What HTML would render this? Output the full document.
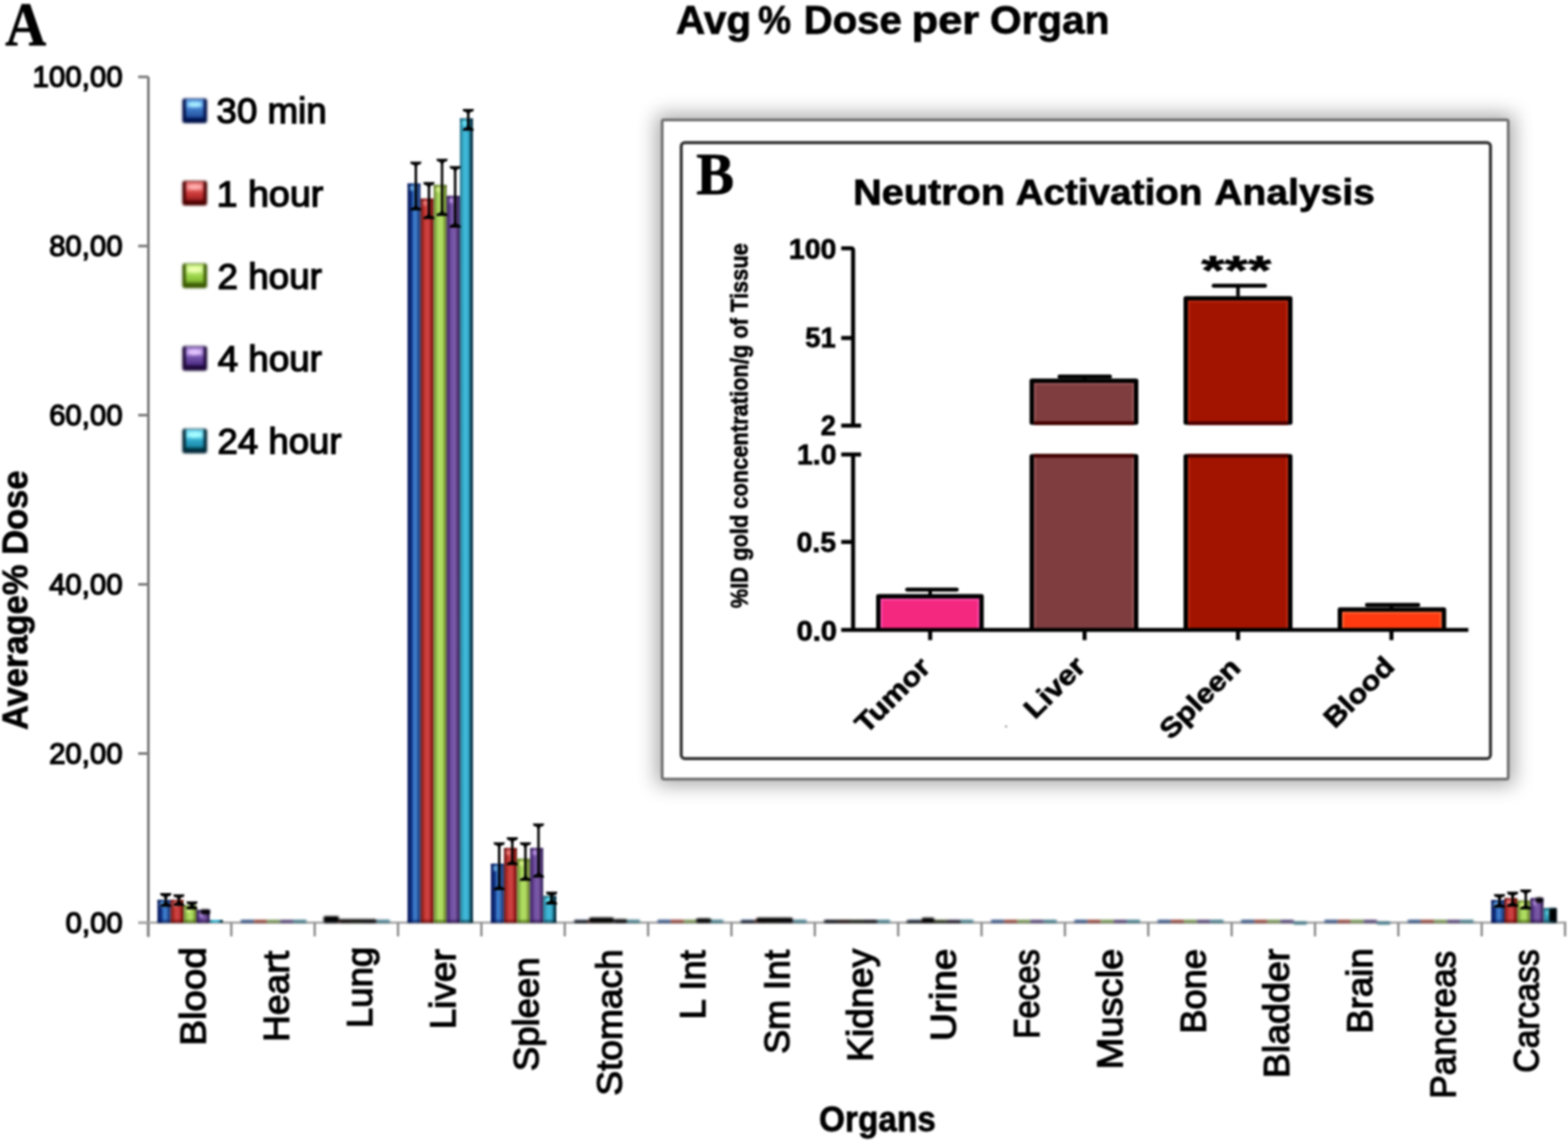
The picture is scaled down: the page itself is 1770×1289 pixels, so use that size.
<!DOCTYPE html><html><head><meta charset="utf-8"><style>html,body{margin:0;padding:0;background:#fff;overflow:hidden;}svg{display:block;}</style></head><body>
<svg width="1770" height="1289" viewBox="0 0 1770 1289">
<defs>
<linearGradient id="g_blue" x1="0" y1="0" x2="1" y2="0"><stop offset="0" stop-color="#2a3d78"/><stop offset="0.12" stop-color="#0b1f66"/><stop offset="0.3" stop-color="#10307e"/><stop offset="0.5" stop-color="#3b7bcc"/><stop offset="0.68" stop-color="#3a78c4"/><stop offset="0.86" stop-color="#24468a"/><stop offset="1" stop-color="#1c3270"/></linearGradient>
<radialGradient id="lg_blue" cx="0.5" cy="0.1" r="0.75"><stop offset="0" stop-color="#7ec0ff"/><stop offset="0.45" stop-color="#3a78cc"/><stop offset="1" stop-color="#3a78cc"/></radialGradient>
<linearGradient id="g_red" x1="0" y1="0" x2="1" y2="0"><stop offset="0" stop-color="#5e2630"/><stop offset="0.12" stop-color="#8a2020"/><stop offset="0.3" stop-color="#c13530"/><stop offset="0.5" stop-color="#d04444"/><stop offset="0.68" stop-color="#c23a3a"/><stop offset="0.86" stop-color="#8c1414"/><stop offset="1" stop-color="#6e2a12"/></linearGradient>
<radialGradient id="lg_red" cx="0.5" cy="0.1" r="0.75"><stop offset="0" stop-color="#ff8a8a"/><stop offset="0.45" stop-color="#c83838"/><stop offset="1" stop-color="#c83838"/></radialGradient>
<linearGradient id="g_green" x1="0" y1="0" x2="1" y2="0"><stop offset="0" stop-color="#6a7f3a"/><stop offset="0.12" stop-color="#7fa040"/><stop offset="0.3" stop-color="#a4d25a"/><stop offset="0.5" stop-color="#b2e064"/><stop offset="0.68" stop-color="#a8d45a"/><stop offset="0.86" stop-color="#7a963a"/><stop offset="1" stop-color="#5e6e34"/></linearGradient>
<radialGradient id="lg_green" cx="0.5" cy="0.1" r="0.75"><stop offset="0" stop-color="#e8ff9a"/><stop offset="0.45" stop-color="#9ccc44"/><stop offset="1" stop-color="#9ccc44"/></radialGradient>
<linearGradient id="g_purple" x1="0" y1="0" x2="1" y2="0"><stop offset="0" stop-color="#3e2c66"/><stop offset="0.12" stop-color="#4a2a72"/><stop offset="0.3" stop-color="#6a4a9c"/><stop offset="0.5" stop-color="#7b5aaa"/><stop offset="0.68" stop-color="#74529e"/><stop offset="0.86" stop-color="#4a2e6c"/><stop offset="1" stop-color="#3a3262"/></linearGradient>
<radialGradient id="lg_purple" cx="0.5" cy="0.1" r="0.75"><stop offset="0" stop-color="#d0a8ff"/><stop offset="0.45" stop-color="#6a4a9c"/><stop offset="1" stop-color="#6a4a9c"/></radialGradient>
<linearGradient id="g_cyan" x1="0" y1="0" x2="1" y2="0"><stop offset="0" stop-color="#2e6f86"/><stop offset="0.12" stop-color="#2c90aa"/><stop offset="0.3" stop-color="#3eb4d4"/><stop offset="0.5" stop-color="#42bad8"/><stop offset="0.68" stop-color="#30a0c0"/><stop offset="0.86" stop-color="#0a3a4c"/><stop offset="1" stop-color="#083040"/></linearGradient>
<radialGradient id="lg_cyan" cx="0.5" cy="0.1" r="0.75"><stop offset="0" stop-color="#8af0ff"/><stop offset="0.45" stop-color="#2aa8c8"/><stop offset="1" stop-color="#2aa8c8"/></radialGradient>
<linearGradient id="lv_blue" x1="0" y1="0" x2="0" y2="1"><stop offset="0" stop-color="#5a9ae0"/><stop offset="0.35" stop-color="#6aa8f0"/><stop offset="0.55" stop-color="#3a74c0"/><stop offset="0.85" stop-color="#2a5aa8"/><stop offset="1" stop-color="#0a2a70"/></linearGradient>
<linearGradient id="lv_red" x1="0" y1="0" x2="0" y2="1"><stop offset="0" stop-color="#e87070"/><stop offset="0.35" stop-color="#f08080"/><stop offset="0.55" stop-color="#d04040"/><stop offset="0.85" stop-color="#b02828"/><stop offset="1" stop-color="#701010"/></linearGradient>
<linearGradient id="lv_green" x1="0" y1="0" x2="0" y2="1"><stop offset="0" stop-color="#c8f080"/><stop offset="0.35" stop-color="#d0f890"/><stop offset="0.55" stop-color="#a0d850"/><stop offset="0.85" stop-color="#88c038"/><stop offset="1" stop-color="#4a7010"/></linearGradient>
<linearGradient id="lv_purple" x1="0" y1="0" x2="0" y2="1"><stop offset="0" stop-color="#a080d0"/><stop offset="0.35" stop-color="#b090e0"/><stop offset="0.55" stop-color="#7050a8"/><stop offset="0.85" stop-color="#5a3890"/><stop offset="1" stop-color="#2a1050"/></linearGradient>
<linearGradient id="lv_cyan" x1="0" y1="0" x2="0" y2="1"><stop offset="0" stop-color="#70d8f0"/><stop offset="0.35" stop-color="#80e8ff"/><stop offset="0.55" stop-color="#30a8c8"/><stop offset="0.85" stop-color="#2090b0"/><stop offset="1" stop-color="#004858"/></linearGradient>
<filter id="shadow" x="-10%" y="-10%" width="120%" height="120%" color-interpolation-filters="sRGB"><feGaussianBlur stdDeviation="11"/></filter>
<filter id="soft" x="-20%" y="-20%" width="140%" height="140%" color-interpolation-filters="sRGB"><feGaussianBlur stdDeviation="0.8"/></filter>
<filter id="glob" x="0" y="0" width="100%" height="100%" filterUnits="userSpaceOnUse" color-interpolation-filters="sRGB"><feGaussianBlur stdDeviation="0.9"/></filter>
</defs>
<rect width="1770" height="1289" fill="#fff"/>
<g filter="url(#glob)">
<rect width="1770" height="1289" fill="#fff"/>
<text x="6.07" y="50.5" font-family="'Liberation Serif', 'Times New Roman', serif" font-weight="bold" font-size="69" textLength="46.21" lengthAdjust="spacingAndGlyphs" fill="#000" stroke="#000" stroke-width="0.8">A</text>
<text x="762.98" y="38.2" font-family="'Liberation Sans', Arial, sans-serif" font-weight="bold" font-size="45" textLength="84.93" lengthAdjust="spacingAndGlyphs" fill="#000" stroke="#000" stroke-width="0.8">Avg</text>
<text x="855.67" y="38.2" font-family="'Liberation Sans', Arial, sans-serif" font-weight="bold" font-size="45" textLength="37.28" lengthAdjust="spacingAndGlyphs" fill="#000" stroke="#000" stroke-width="0.8">%</text>
<text x="907.18" y="38.2" font-family="'Liberation Sans', Arial, sans-serif" font-weight="bold" font-size="45" textLength="110.89" lengthAdjust="spacingAndGlyphs" fill="#000" stroke="#000" stroke-width="0.8">Dose</text>
<text x="1028.92" y="38.2" font-family="'Liberation Sans', Arial, sans-serif" font-weight="bold" font-size="45" textLength="76.61" lengthAdjust="spacingAndGlyphs" fill="#000" stroke="#000" stroke-width="0.8">per</text>
<text x="1117.57" y="38.2" font-family="'Liberation Sans', Arial, sans-serif" font-weight="bold" font-size="45" textLength="134.81" lengthAdjust="spacingAndGlyphs" fill="#000" stroke="#000" stroke-width="0.8">Organ</text>
<g stroke="#7a7a7a" stroke-width="3" fill="none">
<line x1="167.5" y1="86.80000000000018" x2="167.5" y2="1057.4"/>
<line x1="156" y1="1041.4" x2="167.5" y2="1041.4"/>
<line x1="156" y1="850.5" x2="167.5" y2="850.5"/>
<line x1="156" y1="659.6" x2="167.5" y2="659.6"/>
<line x1="156" y1="468.6" x2="167.5" y2="468.6"/>
<line x1="156" y1="277.7" x2="167.5" y2="277.7"/>
<line x1="156" y1="86.8" x2="167.5" y2="86.8"/>
<line x1="156" y1="1041.4" x2="1768" y2="1041.4" stroke="#ababab" stroke-width="2.6"/>
<line x1="167.0" y1="1041.4" x2="167.0" y2="1056.9" stroke="#8a8a8a" stroke-width="2.6"/>
<line x1="261.1" y1="1041.4" x2="261.1" y2="1056.9" stroke="#8a8a8a" stroke-width="2.6"/>
<line x1="355.2" y1="1041.4" x2="355.2" y2="1056.9" stroke="#8a8a8a" stroke-width="2.6"/>
<line x1="449.3" y1="1041.4" x2="449.3" y2="1056.9" stroke="#8a8a8a" stroke-width="2.6"/>
<line x1="543.4" y1="1041.4" x2="543.4" y2="1056.9" stroke="#8a8a8a" stroke-width="2.6"/>
<line x1="637.5" y1="1041.4" x2="637.5" y2="1056.9" stroke="#8a8a8a" stroke-width="2.6"/>
<line x1="731.6" y1="1041.4" x2="731.6" y2="1056.9" stroke="#8a8a8a" stroke-width="2.6"/>
<line x1="825.7" y1="1041.4" x2="825.7" y2="1056.9" stroke="#8a8a8a" stroke-width="2.6"/>
<line x1="919.8" y1="1041.4" x2="919.8" y2="1056.9" stroke="#8a8a8a" stroke-width="2.6"/>
<line x1="1013.9" y1="1041.4" x2="1013.9" y2="1056.9" stroke="#8a8a8a" stroke-width="2.6"/>
<line x1="1108.0" y1="1041.4" x2="1108.0" y2="1056.9" stroke="#8a8a8a" stroke-width="2.6"/>
<line x1="1202.1" y1="1041.4" x2="1202.1" y2="1056.9" stroke="#8a8a8a" stroke-width="2.6"/>
<line x1="1296.2" y1="1041.4" x2="1296.2" y2="1056.9" stroke="#8a8a8a" stroke-width="2.6"/>
<line x1="1390.3" y1="1041.4" x2="1390.3" y2="1056.9" stroke="#8a8a8a" stroke-width="2.6"/>
<line x1="1484.4" y1="1041.4" x2="1484.4" y2="1056.9" stroke="#8a8a8a" stroke-width="2.6"/>
<line x1="1578.5" y1="1041.4" x2="1578.5" y2="1056.9" stroke="#8a8a8a" stroke-width="2.6"/>
<line x1="1672.6" y1="1041.4" x2="1672.6" y2="1056.9" stroke="#8a8a8a" stroke-width="2.6"/>
<line x1="1766.7" y1="1041.4" x2="1766.7" y2="1056.9" stroke="#8a8a8a" stroke-width="2.6"/>
</g>
<text x="73.96" y="1053.0" font-family="'Liberation Sans', Arial, sans-serif" font-weight="normal" font-size="34" textLength="64.60" lengthAdjust="spacingAndGlyphs" fill="#000" stroke="#000" stroke-width="1.5">0,00</text>
<text x="55.42" y="862.1" font-family="'Liberation Sans', Arial, sans-serif" font-weight="normal" font-size="34" textLength="83.05" lengthAdjust="spacingAndGlyphs" fill="#000" stroke="#000" stroke-width="1.5">20,00</text>
<text x="55.42" y="671.2" font-family="'Liberation Sans', Arial, sans-serif" font-weight="normal" font-size="34" textLength="83.05" lengthAdjust="spacingAndGlyphs" fill="#000" stroke="#000" stroke-width="1.5">40,00</text>
<text x="55.42" y="480.2" font-family="'Liberation Sans', Arial, sans-serif" font-weight="normal" font-size="34" textLength="83.05" lengthAdjust="spacingAndGlyphs" fill="#000" stroke="#000" stroke-width="1.5">60,00</text>
<text x="55.42" y="289.3" font-family="'Liberation Sans', Arial, sans-serif" font-weight="normal" font-size="34" textLength="83.05" lengthAdjust="spacingAndGlyphs" fill="#000" stroke="#000" stroke-width="1.5">80,00</text>
<text x="36.87" y="98.4" font-family="'Liberation Sans', Arial, sans-serif" font-weight="normal" font-size="34" textLength="101.50" lengthAdjust="spacingAndGlyphs" fill="#000" stroke="#000" stroke-width="1.5">100,00</text>
<rect x="177.60" y="1015.80" width="14.8" height="25.60" fill="url(#g_blue)"/>
<g filter="url(#soft)"><rect x="178.10" y="1015.80" width="13.8" height="2" fill="#001050" opacity="0.6"/><ellipse cx="182.78" cy="1020.80" rx="2.2" ry="3.2" fill="#8ad8ff" opacity="0.75"/><rect x="178.10" y="1038.90" width="13.8" height="2.5" fill="#001050" opacity="0.7"/></g>
<rect x="192.40" y="1015.80" width="14.8" height="25.60" fill="url(#g_red)"/>
<g filter="url(#soft)"><rect x="192.90" y="1015.80" width="13.8" height="2" fill="#500000" opacity="0.6"/><ellipse cx="197.58" cy="1020.80" rx="2.2" ry="3.2" fill="#ff9a9a" opacity="0.75"/><rect x="192.90" y="1038.90" width="13.8" height="2.5" fill="#500000" opacity="0.7"/></g>
<rect x="207.20" y="1021.90" width="14.8" height="19.50" fill="url(#g_green)"/>
<g filter="url(#soft)"><rect x="207.70" y="1021.90" width="13.8" height="2" fill="#304a00" opacity="0.6"/><ellipse cx="212.38" cy="1026.90" rx="2.2" ry="3.2" fill="#f0ffa0" opacity="0.75"/><rect x="207.70" y="1038.90" width="13.8" height="2.5" fill="#304a00" opacity="0.7"/></g>
<rect x="222.00" y="1027.30" width="14.8" height="14.10" fill="url(#g_purple)"/>
<g filter="url(#soft)"><rect x="222.50" y="1027.30" width="13.8" height="2" fill="#200838" opacity="0.6"/><ellipse cx="227.18" cy="1032.30" rx="2.2" ry="3.2" fill="#d8b0ff" opacity="0.75"/><rect x="222.50" y="1038.90" width="13.8" height="2.5" fill="#200838" opacity="0.7"/></g>
<rect x="236.80" y="1038.30" width="14.8" height="3.10" fill="url(#g_cyan)"/>
<g><line x1="187.1" y1="1009.7" x2="187.1" y2="1022.0" stroke="#000" stroke-width="2.8"/><path d="M180.6,1008.1 L193.6,1008.1 L192.6,1010.9 L189.1,1011.9 L188.7,1013.7 L185.5,1013.7 L185.1,1011.9 L181.6,1010.9 Z" fill="#000"/><path d="M180.6,1023.6 L193.6,1023.6 L192.6,1020.8 L189.1,1019.8 L188.7,1018.0 L185.5,1018.0 L185.1,1019.8 L181.6,1020.8 Z" fill="#000"/></g>
<g><line x1="201.9" y1="1011.0" x2="201.9" y2="1021.0" stroke="#000" stroke-width="2.8"/><path d="M195.4,1009.4 L208.4,1009.4 L207.4,1012.2 L203.9,1013.2 L203.5,1015.0 L200.3,1015.0 L199.9,1013.2 L196.4,1012.2 Z" fill="#000"/><path d="M195.4,1022.6 L208.4,1022.6 L207.4,1019.8 L203.9,1018.8 L203.5,1017.0 L200.3,1017.0 L199.9,1018.8 L196.4,1019.8 Z" fill="#000"/></g>
<g><line x1="216.7" y1="1019.0" x2="216.7" y2="1025.0" stroke="#000" stroke-width="2.8"/><path d="M210.2,1017.4 L223.2,1017.4 L222.2,1020.2 L218.7,1021.2 L218.3,1023.0 L215.1,1023.0 L214.7,1021.2 L211.2,1020.2 Z" fill="#000"/><path d="M210.2,1026.6 L223.2,1026.6 L222.2,1023.8 L218.7,1022.8 L218.3,1021.0 L215.1,1021.0 L214.7,1022.8 L211.2,1023.8 Z" fill="#000"/></g>
<g filter="url(#soft)">
<rect x="271.70" y="1038.2" width="15.10" height="3.4" rx="1" fill="#2c4c80"/>
<rect x="286.50" y="1038.2" width="15.10" height="3.4" rx="1" fill="#8e3a30"/>
<rect x="301.30" y="1038.2" width="15.10" height="3.4" rx="1" fill="#6e8e48"/>
<rect x="316.10" y="1038.2" width="15.10" height="3.4" rx="1" fill="#4c3a70"/>
<rect x="330.90" y="1038.2" width="15.10" height="3.4" rx="1" fill="#3a7686"/>
</g>
<g filter="url(#soft)">
<rect x="365.80" y="1038.2" width="15.10" height="3.4" rx="1" fill="#2c4c80"/>
<rect x="380.60" y="1038.2" width="15.10" height="3.4" rx="1" fill="#8e3a30"/>
<rect x="395.40" y="1038.2" width="15.10" height="3.4" rx="1" fill="#6e8e48"/>
<rect x="410.20" y="1038.2" width="15.10" height="3.4" rx="1" fill="#4c3a70"/>
<rect x="425.00" y="1038.2" width="15.10" height="3.4" rx="1" fill="#3a7686"/>
<rect x="365.2" y="1034.1" width="17.5" height="7.5" rx="2" fill="#000"/>
<rect x="382.7" y="1037.6" width="42.3" height="4.0" rx="2" fill="#000"/>
</g>
<rect x="459.90" y="207.20" width="14.8" height="834.20" fill="url(#g_blue)"/>
<g filter="url(#soft)"><rect x="460.40" y="207.20" width="13.8" height="2" fill="#001050" opacity="0.6"/><ellipse cx="465.08" cy="212.20" rx="2.2" ry="3.2" fill="#8ad8ff" opacity="0.75"/><rect x="460.40" y="1038.90" width="13.8" height="2.5" fill="#001050" opacity="0.7"/></g>
<rect x="474.70" y="224.30" width="14.8" height="817.10" fill="url(#g_red)"/>
<g filter="url(#soft)"><rect x="475.20" y="224.30" width="13.8" height="2" fill="#500000" opacity="0.6"/><ellipse cx="479.88" cy="229.30" rx="2.2" ry="3.2" fill="#ff9a9a" opacity="0.75"/><rect x="475.20" y="1038.90" width="13.8" height="2.5" fill="#500000" opacity="0.7"/></g>
<rect x="489.50" y="208.80" width="14.8" height="832.60" fill="url(#g_green)"/>
<g filter="url(#soft)"><rect x="490.00" y="208.80" width="13.8" height="2" fill="#304a00" opacity="0.6"/><ellipse cx="494.68" cy="213.80" rx="2.2" ry="3.2" fill="#f0ffa0" opacity="0.75"/><rect x="490.00" y="1038.90" width="13.8" height="2.5" fill="#304a00" opacity="0.7"/></g>
<rect x="504.30" y="221.20" width="14.8" height="820.20" fill="url(#g_purple)"/>
<g filter="url(#soft)"><rect x="504.80" y="221.20" width="13.8" height="2" fill="#200838" opacity="0.6"/><ellipse cx="509.48" cy="226.20" rx="2.2" ry="3.2" fill="#d8b0ff" opacity="0.75"/><rect x="504.80" y="1038.90" width="13.8" height="2.5" fill="#200838" opacity="0.7"/></g>
<rect x="519.10" y="133.70" width="14.8" height="907.70" fill="url(#g_cyan)"/>
<g filter="url(#soft)"><rect x="519.60" y="133.70" width="13.8" height="2" fill="#002030" opacity="0.6"/><ellipse cx="524.28" cy="138.70" rx="2.2" ry="3.2" fill="#80f8ff" opacity="0.75"/><rect x="519.60" y="1038.90" width="13.8" height="2.5" fill="#002030" opacity="0.7"/></g>
<g><line x1="469.4" y1="184.0" x2="469.4" y2="236.0" stroke="#000" stroke-width="2.8"/><path d="M462.9,182.4 L475.9,182.4 L474.9,185.2 L471.4,186.2 L471.0,188.0 L467.8,188.0 L467.4,186.2 L463.9,185.2 Z" fill="#000"/><path d="M462.9,237.6 L475.9,237.6 L474.9,234.8 L471.4,233.8 L471.0,232.0 L467.8,232.0 L467.4,233.8 L463.9,234.8 Z" fill="#000"/></g>
<g><line x1="484.2" y1="207.2" x2="484.2" y2="245.6" stroke="#000" stroke-width="2.8"/><path d="M477.7,205.6 L490.7,205.6 L489.7,208.4 L486.2,209.4 L485.8,211.2 L482.6,211.2 L482.2,209.4 L478.7,208.4 Z" fill="#000"/><path d="M477.7,247.2 L490.7,247.2 L489.7,244.4 L486.2,243.4 L485.8,241.6 L482.6,241.6 L482.2,243.4 L478.7,244.4 Z" fill="#000"/></g>
<g><line x1="499.0" y1="180.9" x2="499.0" y2="242.1" stroke="#000" stroke-width="2.8"/><path d="M492.5,179.3 L505.5,179.3 L504.5,182.1 L501.0,183.1 L500.6,184.9 L497.4,184.9 L497.0,183.1 L493.5,182.1 Z" fill="#000"/><path d="M492.5,243.7 L505.5,243.7 L504.5,240.9 L501.0,239.9 L500.6,238.1 L497.4,238.1 L497.0,239.9 L493.5,240.9 Z" fill="#000"/></g>
<g><line x1="513.8" y1="189.0" x2="513.8" y2="255.3" stroke="#000" stroke-width="2.8"/><path d="M507.3,187.4 L520.3,187.4 L519.3,190.2 L515.8,191.2 L515.4,193.0 L512.2,193.0 L511.8,191.2 L508.3,190.2 Z" fill="#000"/><path d="M507.3,256.9 L520.3,256.9 L519.3,254.1 L515.8,253.1 L515.4,251.3 L512.2,251.3 L511.8,253.1 L508.3,254.1 Z" fill="#000"/></g>
<g><line x1="528.6" y1="124.5" x2="528.6" y2="146.0" stroke="#000" stroke-width="2.8"/><path d="M522.1,122.9 L535.1,122.9 L534.1,125.7 L530.6,126.7 L530.2,128.5 L527.0,128.5 L526.6,126.7 L523.1,125.7 Z" fill="#000"/><path d="M522.1,147.6 L535.1,147.6 L534.1,144.8 L530.6,143.8 L530.2,142.0 L527.0,142.0 L526.6,143.8 L523.1,144.8 Z" fill="#000"/></g>
<rect x="554.00" y="975.00" width="14.8" height="66.40" fill="url(#g_blue)"/>
<g filter="url(#soft)"><rect x="554.50" y="975.00" width="13.8" height="2" fill="#001050" opacity="0.6"/><ellipse cx="559.18" cy="980.00" rx="2.2" ry="3.2" fill="#8ad8ff" opacity="0.75"/><rect x="554.50" y="1038.90" width="13.8" height="2.5" fill="#001050" opacity="0.7"/></g>
<rect x="568.80" y="957.30" width="14.8" height="84.10" fill="url(#g_red)"/>
<g filter="url(#soft)"><rect x="569.30" y="957.30" width="13.8" height="2" fill="#500000" opacity="0.6"/><ellipse cx="573.98" cy="962.30" rx="2.2" ry="3.2" fill="#ff9a9a" opacity="0.75"/><rect x="569.30" y="1038.90" width="13.8" height="2.5" fill="#500000" opacity="0.7"/></g>
<rect x="583.60" y="969.40" width="14.8" height="72.00" fill="url(#g_green)"/>
<g filter="url(#soft)"><rect x="584.10" y="969.40" width="13.8" height="2" fill="#304a00" opacity="0.6"/><ellipse cx="588.78" cy="974.40" rx="2.2" ry="3.2" fill="#f0ffa0" opacity="0.75"/><rect x="584.10" y="1038.90" width="13.8" height="2.5" fill="#304a00" opacity="0.7"/></g>
<rect x="598.40" y="957.30" width="14.8" height="84.10" fill="url(#g_purple)"/>
<g filter="url(#soft)"><rect x="598.90" y="957.30" width="13.8" height="2" fill="#200838" opacity="0.6"/><ellipse cx="603.58" cy="962.30" rx="2.2" ry="3.2" fill="#d8b0ff" opacity="0.75"/><rect x="598.90" y="1038.90" width="13.8" height="2.5" fill="#200838" opacity="0.7"/></g>
<rect x="613.20" y="1011.30" width="14.8" height="30.10" fill="url(#g_cyan)"/>
<g filter="url(#soft)"><rect x="613.70" y="1011.30" width="13.8" height="2" fill="#002030" opacity="0.6"/><ellipse cx="618.38" cy="1016.30" rx="2.2" ry="3.2" fill="#80f8ff" opacity="0.75"/><rect x="613.70" y="1038.90" width="13.8" height="2.5" fill="#002030" opacity="0.7"/></g>
<g><line x1="563.5" y1="952.3" x2="563.5" y2="1003.2" stroke="#000" stroke-width="2.8"/><path d="M557.0,950.7 L570.0,950.7 L569.0,953.5 L565.5,954.5 L565.1,956.3 L561.9,956.3 L561.5,954.5 L558.0,953.5 Z" fill="#000"/><path d="M557.0,1004.8 L570.0,1004.8 L569.0,1002.0 L565.5,1001.0 L565.1,999.2 L561.9,999.2 L561.5,1001.0 L558.0,1002.0 Z" fill="#000"/></g>
<g><line x1="578.3" y1="946.7" x2="578.3" y2="975.0" stroke="#000" stroke-width="2.8"/><path d="M571.8,945.1 L584.8,945.1 L583.8,947.9 L580.3,948.9 L579.9,950.7 L576.7,950.7 L576.3,948.9 L572.8,947.9 Z" fill="#000"/><path d="M571.8,976.6 L584.8,976.6 L583.8,973.8 L580.3,972.8 L579.9,971.0 L576.7,971.0 L576.3,972.8 L572.8,973.8 Z" fill="#000"/></g>
<g><line x1="593.1" y1="952.3" x2="593.1" y2="992.6" stroke="#000" stroke-width="2.8"/><path d="M586.6,950.7 L599.6,950.7 L598.6,953.5 L595.1,954.5 L594.7,956.3 L591.5,956.3 L591.1,954.5 L587.6,953.5 Z" fill="#000"/><path d="M586.6,994.2 L599.6,994.2 L598.6,991.4 L595.1,990.4 L594.7,988.6 L591.5,988.6 L591.1,990.4 L587.6,991.4 Z" fill="#000"/></g>
<g><line x1="607.9" y1="931.0" x2="607.9" y2="989.0" stroke="#000" stroke-width="2.8"/><path d="M601.4,929.4 L614.4,929.4 L613.4,932.2 L609.9,933.2 L609.5,935.0 L606.3,935.0 L605.9,933.2 L602.4,932.2 Z" fill="#000"/><path d="M601.4,990.6 L614.4,990.6 L613.4,987.8 L609.9,986.8 L609.5,985.0 L606.3,985.0 L605.9,986.8 L602.4,987.8 Z" fill="#000"/></g>
<g><line x1="622.7" y1="1008.2" x2="622.7" y2="1019.3" stroke="#000" stroke-width="2.8"/><path d="M616.2,1006.6 L629.2,1006.6 L628.2,1009.4 L624.7,1010.4 L624.3,1012.2 L621.1,1012.2 L620.7,1010.4 L617.2,1009.4 Z" fill="#000"/><path d="M616.2,1020.9 L629.2,1020.9 L628.2,1018.1 L624.7,1017.1 L624.3,1015.3 L621.1,1015.3 L620.7,1017.1 L617.2,1018.1 Z" fill="#000"/></g>
<g filter="url(#soft)">
<rect x="648.10" y="1038.2" width="15.10" height="3.4" rx="1" fill="#2c4c80"/>
<rect x="662.90" y="1038.2" width="15.10" height="3.4" rx="1" fill="#8e3a30"/>
<rect x="677.70" y="1038.2" width="15.10" height="3.4" rx="1" fill="#6e8e48"/>
<rect x="692.50" y="1038.2" width="15.10" height="3.4" rx="1" fill="#4c3a70"/>
<rect x="707.30" y="1038.2" width="15.10" height="3.4" rx="1" fill="#3a7686"/>
<rect x="648.0" y="1039.1" width="17.0" height="2.5" rx="2" fill="#000"/>
<rect x="665.0" y="1035.5" width="28.0" height="6.1" rx="2" fill="#000"/>
<rect x="693.0" y="1037.6" width="15.0" height="4.0" rx="2" fill="#000"/>
</g>
<g filter="url(#soft)">
<rect x="742.20" y="1038.2" width="15.10" height="3.4" rx="1" fill="#2c4c80"/>
<rect x="757.00" y="1038.2" width="15.10" height="3.4" rx="1" fill="#8e3a30"/>
<rect x="771.80" y="1038.2" width="15.10" height="3.4" rx="1" fill="#6e8e48"/>
<rect x="786.60" y="1038.2" width="15.10" height="3.4" rx="1" fill="#4c3a70"/>
<rect x="801.40" y="1038.2" width="15.10" height="3.4" rx="1" fill="#3a7686"/>
<rect x="785.8" y="1036.6" width="16.9" height="5.0" rx="2" fill="#000"/>
</g>
<g filter="url(#soft)">
<rect x="836.30" y="1038.2" width="15.10" height="3.4" rx="1" fill="#2c4c80"/>
<rect x="851.10" y="1038.2" width="15.10" height="3.4" rx="1" fill="#8e3a30"/>
<rect x="865.90" y="1038.2" width="15.10" height="3.4" rx="1" fill="#6e8e48"/>
<rect x="880.70" y="1038.2" width="15.10" height="3.4" rx="1" fill="#4c3a70"/>
<rect x="895.50" y="1038.2" width="15.10" height="3.4" rx="1" fill="#3a7686"/>
<rect x="836.0" y="1039.6" width="17.7" height="2.0" rx="2" fill="#000"/>
<rect x="853.7" y="1035.8" width="41.3" height="5.8" rx="2" fill="#000"/>
</g>
<g filter="url(#soft)">
<rect x="930.40" y="1038.2" width="15.10" height="3.4" rx="1" fill="#2c4c80"/>
<rect x="945.20" y="1038.2" width="15.10" height="3.4" rx="1" fill="#8e3a30"/>
<rect x="960.00" y="1038.2" width="15.10" height="3.4" rx="1" fill="#6e8e48"/>
<rect x="974.80" y="1038.2" width="15.10" height="3.4" rx="1" fill="#4c3a70"/>
<rect x="989.60" y="1038.2" width="15.10" height="3.4" rx="1" fill="#3a7686"/>
<rect x="930.0" y="1038.4" width="60.6" height="3.2" rx="2" fill="#000"/>
</g>
<g filter="url(#soft)">
<rect x="1024.50" y="1038.2" width="15.10" height="3.4" rx="1" fill="#2c4c80"/>
<rect x="1039.30" y="1038.2" width="15.10" height="3.4" rx="1" fill="#8e3a30"/>
<rect x="1054.10" y="1038.2" width="15.10" height="3.4" rx="1" fill="#6e8e48"/>
<rect x="1068.90" y="1038.2" width="15.10" height="3.4" rx="1" fill="#4c3a70"/>
<rect x="1083.70" y="1038.2" width="15.10" height="3.4" rx="1" fill="#3a7686"/>
<rect x="1023.0" y="1039.2" width="61.7" height="2.4" rx="2" fill="#000"/>
<rect x="1040.4" y="1035.8" width="14.3" height="5.8" rx="2" fill="#000"/>
</g>
<g filter="url(#soft)">
<rect x="1118.60" y="1038.2" width="15.10" height="3.4" rx="1" fill="#2c4c80"/>
<rect x="1133.40" y="1038.2" width="15.10" height="3.4" rx="1" fill="#8e3a30"/>
<rect x="1148.20" y="1038.2" width="15.10" height="3.4" rx="1" fill="#6e8e48"/>
<rect x="1163.00" y="1038.2" width="15.10" height="3.4" rx="1" fill="#4c3a70"/>
<rect x="1177.80" y="1038.2" width="15.10" height="3.4" rx="1" fill="#3a7686"/>
</g>
<g filter="url(#soft)">
<rect x="1212.70" y="1038.2" width="15.10" height="3.4" rx="1" fill="#2c4c80"/>
<rect x="1227.50" y="1038.2" width="15.10" height="3.4" rx="1" fill="#8e3a30"/>
<rect x="1242.30" y="1038.2" width="15.10" height="3.4" rx="1" fill="#6e8e48"/>
<rect x="1257.10" y="1038.2" width="15.10" height="3.4" rx="1" fill="#4c3a70"/>
<rect x="1271.90" y="1038.2" width="15.10" height="3.4" rx="1" fill="#3a7686"/>
</g>
<g filter="url(#soft)">
<rect x="1306.80" y="1038.2" width="15.10" height="3.4" rx="1" fill="#2c4c80"/>
<rect x="1321.60" y="1038.2" width="15.10" height="3.4" rx="1" fill="#8e3a30"/>
<rect x="1336.40" y="1038.2" width="15.10" height="3.4" rx="1" fill="#6e8e48"/>
<rect x="1351.20" y="1038.2" width="15.10" height="3.4" rx="1" fill="#4c3a70"/>
<rect x="1366.00" y="1038.2" width="15.10" height="3.4" rx="1" fill="#3a7686"/>
</g>
<g filter="url(#soft)">
<rect x="1400.90" y="1038.2" width="15.10" height="3.4" rx="1" fill="#2c4c80"/>
<rect x="1415.70" y="1038.2" width="15.10" height="3.4" rx="1" fill="#8e3a30"/>
<rect x="1430.50" y="1038.2" width="15.10" height="3.4" rx="1" fill="#6e8e48"/>
<rect x="1445.30" y="1038.2" width="15.10" height="3.4" rx="1" fill="#4c3a70"/>
<rect x="1460.10" y="1040.2" width="15.10" height="3.4" rx="1" fill="#3a7686"/>
</g>
<g filter="url(#soft)">
<rect x="1495.00" y="1038.2" width="15.10" height="3.4" rx="1" fill="#2c4c80"/>
<rect x="1509.80" y="1038.2" width="15.10" height="3.4" rx="1" fill="#8e3a30"/>
<rect x="1524.60" y="1038.2" width="15.10" height="3.4" rx="1" fill="#6e8e48"/>
<rect x="1539.40" y="1038.2" width="15.10" height="3.4" rx="1" fill="#4c3a70"/>
<rect x="1554.20" y="1040.2" width="15.10" height="3.4" rx="1" fill="#3a7686"/>
</g>
<g filter="url(#soft)">
<rect x="1589.10" y="1038.2" width="15.10" height="3.4" rx="1" fill="#2c4c80"/>
<rect x="1603.90" y="1038.2" width="15.10" height="3.4" rx="1" fill="#8e3a30"/>
<rect x="1618.70" y="1038.2" width="15.10" height="3.4" rx="1" fill="#6e8e48"/>
<rect x="1633.50" y="1038.2" width="15.10" height="3.4" rx="1" fill="#4c3a70"/>
<rect x="1648.30" y="1038.2" width="15.10" height="3.4" rx="1" fill="#3a7686"/>
</g>
<rect x="1683.20" y="1016.00" width="14.8" height="25.40" fill="url(#g_blue)"/>
<g filter="url(#soft)"><rect x="1683.70" y="1016.00" width="13.8" height="2" fill="#001050" opacity="0.6"/><ellipse cx="1688.38" cy="1021.00" rx="2.2" ry="3.2" fill="#8ad8ff" opacity="0.75"/><rect x="1683.70" y="1038.90" width="13.8" height="2.5" fill="#001050" opacity="0.7"/></g>
<rect x="1698.00" y="1013.80" width="14.8" height="27.60" fill="url(#g_red)"/>
<g filter="url(#soft)"><rect x="1698.50" y="1013.80" width="13.8" height="2" fill="#500000" opacity="0.6"/><ellipse cx="1703.18" cy="1018.80" rx="2.2" ry="3.2" fill="#ff9a9a" opacity="0.75"/><rect x="1698.50" y="1038.90" width="13.8" height="2.5" fill="#500000" opacity="0.7"/></g>
<rect x="1712.80" y="1016.50" width="14.8" height="24.90" fill="url(#g_green)"/>
<g filter="url(#soft)"><rect x="1713.30" y="1016.50" width="13.8" height="2" fill="#304a00" opacity="0.6"/><ellipse cx="1717.98" cy="1021.50" rx="2.2" ry="3.2" fill="#f0ffa0" opacity="0.75"/><rect x="1713.30" y="1038.90" width="13.8" height="2.5" fill="#304a00" opacity="0.7"/></g>
<rect x="1727.60" y="1013.80" width="14.8" height="27.60" fill="url(#g_purple)"/>
<g filter="url(#soft)"><rect x="1728.10" y="1013.80" width="13.8" height="2" fill="#200838" opacity="0.6"/><ellipse cx="1732.78" cy="1018.80" rx="2.2" ry="3.2" fill="#d8b0ff" opacity="0.75"/><rect x="1728.10" y="1038.90" width="13.8" height="2.5" fill="#200838" opacity="0.7"/></g>
<rect x="1742.40" y="1025.00" width="14.8" height="16.40" fill="url(#g_cyan)"/>
<g filter="url(#soft)"><rect x="1742.90" y="1025.00" width="13.8" height="2" fill="#002030" opacity="0.6"/><ellipse cx="1747.58" cy="1030.00" rx="2.2" ry="3.2" fill="#80f8ff" opacity="0.75"/><rect x="1742.90" y="1038.90" width="13.8" height="2.5" fill="#002030" opacity="0.7"/></g>
<g><line x1="1692.7" y1="1010.8" x2="1692.7" y2="1022.9" stroke="#000" stroke-width="2.8"/><path d="M1686.2,1009.2 L1699.2,1009.2 L1698.2,1012.0 L1694.7,1013.0 L1694.3,1014.8 L1691.1,1014.8 L1690.7,1013.0 L1687.2,1012.0 Z" fill="#000"/><path d="M1686.2,1024.5 L1699.2,1024.5 L1698.2,1021.7 L1694.7,1020.7 L1694.3,1018.9 L1691.1,1018.9 L1690.7,1020.7 L1687.2,1021.7 Z" fill="#000"/></g>
<g><line x1="1707.5" y1="1008.2" x2="1707.5" y2="1021.8" stroke="#000" stroke-width="2.8"/><path d="M1701.0,1006.6 L1714.0,1006.6 L1713.0,1009.4 L1709.5,1010.4 L1709.1,1012.2 L1705.9,1012.2 L1705.5,1010.4 L1702.0,1009.4 Z" fill="#000"/><path d="M1701.0,1023.4 L1714.0,1023.4 L1713.0,1020.6 L1709.5,1019.6 L1709.1,1017.8 L1705.9,1017.8 L1705.5,1019.6 L1702.0,1020.6 Z" fill="#000"/></g>
<g><line x1="1722.3" y1="1005.5" x2="1722.3" y2="1025.0" stroke="#000" stroke-width="2.8"/><path d="M1715.8,1003.9 L1728.8,1003.9 L1727.8,1006.7 L1724.3,1007.7 L1723.9,1009.5 L1720.7,1009.5 L1720.3,1007.7 L1716.8,1006.7 Z" fill="#000"/><path d="M1715.8,1026.6 L1728.8,1026.6 L1727.8,1023.8 L1724.3,1022.8 L1723.9,1021.0 L1720.7,1021.0 L1720.3,1022.8 L1716.8,1023.8 Z" fill="#000"/></g>
<g filter="url(#soft)">
<rect x="1733.5" y="1013" width="8.0" height="6" rx="1.5" fill="#000"/>
<rect x="1748.5" y="1025.5" width="8.5" height="15.0" rx="1.5" fill="#000"/>
<rect x="226.5" y="1026.5" width="10.5" height="5.5" rx="1.5" fill="#000"/>
</g>
<text transform="translate(231.80,0) rotate(-90)" x="-1180.38" y="0" font-family="'Liberation Sans', Arial, sans-serif" font-weight="normal" font-size="41" textLength="111.23" lengthAdjust="spacingAndGlyphs" fill="#000" stroke="#000" stroke-width="1.4">Blood</text>
<text transform="translate(325.90,0) rotate(-90)" x="-1176.07" y="0" font-family="'Liberation Sans', Arial, sans-serif" font-weight="normal" font-size="41" textLength="102.64" lengthAdjust="spacingAndGlyphs" fill="#000" stroke="#000" stroke-width="1.4">Heart</text>
<text transform="translate(420.00,0) rotate(-90)" x="-1160.42" y="0" font-family="'Liberation Sans', Arial, sans-serif" font-weight="normal" font-size="41" textLength="91.75" lengthAdjust="spacingAndGlyphs" fill="#000" stroke="#000" stroke-width="1.4">Lung</text>
<text transform="translate(514.10,0) rotate(-90)" x="-1161.86" y="0" font-family="'Liberation Sans', Arial, sans-serif" font-weight="normal" font-size="41" textLength="90.55" lengthAdjust="spacingAndGlyphs" fill="#000" stroke="#000" stroke-width="1.4">Liver</text>
<text transform="translate(608.20,0) rotate(-90)" x="-1209.11" y="0" font-family="'Liberation Sans', Arial, sans-serif" font-weight="normal" font-size="41" textLength="128.61" lengthAdjust="spacingAndGlyphs" fill="#000" stroke="#000" stroke-width="1.4">Spleen</text>
<text transform="translate(702.30,0) rotate(-90)" x="-1236.85" y="0" font-family="'Liberation Sans', Arial, sans-serif" font-weight="normal" font-size="41" textLength="165.52" lengthAdjust="spacingAndGlyphs" fill="#000" stroke="#000" stroke-width="1.4">Stomach</text>
<text transform="translate(796.40,0) rotate(-90)" x="-1150.80" y="0" font-family="'Liberation Sans', Arial, sans-serif" font-weight="normal" font-size="41" textLength="78.27" lengthAdjust="spacingAndGlyphs" fill="#000" stroke="#000" stroke-width="1.4">L Int</text>
<text transform="translate(890.50,0) rotate(-90)" x="-1189.48" y="0" font-family="'Liberation Sans', Arial, sans-serif" font-weight="normal" font-size="41" textLength="117.16" lengthAdjust="spacingAndGlyphs" fill="#000" stroke="#000" stroke-width="1.4">Sm Int</text>
<text transform="translate(984.60,0) rotate(-90)" x="-1198.45" y="0" font-family="'Liberation Sans', Arial, sans-serif" font-weight="normal" font-size="41" textLength="127.64" lengthAdjust="spacingAndGlyphs" fill="#000" stroke="#000" stroke-width="1.4">Kidney</text>
<text transform="translate(1078.70,0) rotate(-90)" x="-1174.99" y="0" font-family="'Liberation Sans', Arial, sans-serif" font-weight="normal" font-size="41" textLength="104.31" lengthAdjust="spacingAndGlyphs" fill="#000" stroke="#000" stroke-width="1.4">Urine</text>
<text transform="translate(1172.80,0) rotate(-90)" x="-1172.52" y="0" font-family="'Liberation Sans', Arial, sans-serif" font-weight="normal" font-size="41" textLength="101.22" lengthAdjust="spacingAndGlyphs" fill="#000" stroke="#000" stroke-width="1.4">Feces</text>
<text transform="translate(1266.90,0) rotate(-90)" x="-1206.94" y="0" font-family="'Liberation Sans', Arial, sans-serif" font-weight="normal" font-size="41" textLength="136.01" lengthAdjust="spacingAndGlyphs" fill="#000" stroke="#000" stroke-width="1.4">Muscle</text>
<text transform="translate(1361.00,0) rotate(-90)" x="-1166.80" y="0" font-family="'Liberation Sans', Arial, sans-serif" font-weight="normal" font-size="41" textLength="95.66" lengthAdjust="spacingAndGlyphs" fill="#000" stroke="#000" stroke-width="1.4">Bone</text>
<text transform="translate(1455.10,0) rotate(-90)" x="-1216.90" y="0" font-family="'Liberation Sans', Arial, sans-serif" font-weight="normal" font-size="41" textLength="146.04" lengthAdjust="spacingAndGlyphs" fill="#000" stroke="#000" stroke-width="1.4">Bladder</text>
<text transform="translate(1549.20,0) rotate(-90)" x="-1166.83" y="0" font-family="'Liberation Sans', Arial, sans-serif" font-weight="normal" font-size="41" textLength="96.68" lengthAdjust="spacingAndGlyphs" fill="#000" stroke="#000" stroke-width="1.4">Brain</text>
<text transform="translate(1643.30,0) rotate(-90)" x="-1239.99" y="0" font-family="'Liberation Sans', Arial, sans-serif" font-weight="normal" font-size="41" textLength="166.66" lengthAdjust="spacingAndGlyphs" fill="#000" stroke="#000" stroke-width="1.4">Pancreas</text>
<text transform="translate(1737.40,0) rotate(-90)" x="-1210.65" y="0" font-family="'Liberation Sans', Arial, sans-serif" font-weight="normal" font-size="41" textLength="139.02" lengthAdjust="spacingAndGlyphs" fill="#000" stroke="#000" stroke-width="1.4">Carcass</text>
<text x="924.56" y="1277.3" font-family="'Liberation Sans', Arial, sans-serif" font-weight="bold" font-size="41" textLength="131.86" lengthAdjust="spacingAndGlyphs" fill="#000" stroke="#000" stroke-width="0.8">Organs</text>
<text transform="translate(31.30,0) rotate(-90)" x="-823.97" y="0" font-family="'Liberation Sans', Arial, sans-serif" font-weight="bold" font-size="40" textLength="292.84" lengthAdjust="spacingAndGlyphs" fill="#000" stroke="#000" stroke-width="0.8">Average% Dose</text>
<g filter="url(#soft)"><rect x="205.8" y="110.9" width="28" height="28" rx="3" fill="#00104a"/><rect x="209.8" y="111.9" width="20" height="22" fill="url(#lv_blue)"/><ellipse cx="219.8" cy="117.9" rx="8" ry="3.2" fill="#a8f0ff" opacity="0.9"/></g>
<text x="244.38" y="139" font-family="'Liberation Sans', Arial, sans-serif" font-weight="normal" font-size="41" textLength="124.31" lengthAdjust="spacingAndGlyphs" fill="#000" stroke="#000" stroke-width="1.5">30 min</text>
<g filter="url(#soft)"><rect x="205.8" y="204.1" width="28" height="28" rx="3" fill="#4a0000"/><rect x="209.8" y="205.1" width="20" height="22" fill="url(#lv_red)"/><ellipse cx="219.8" cy="211.1" rx="8" ry="3.2" fill="#ffb0b0" opacity="0.9"/></g>
<text x="244.49" y="232.5" font-family="'Liberation Sans', Arial, sans-serif" font-weight="normal" font-size="41" textLength="120.42" lengthAdjust="spacingAndGlyphs" fill="#000" stroke="#000" stroke-width="1.5">1 hour</text>
<g filter="url(#soft)"><rect x="205.8" y="297.3" width="28" height="28" rx="3" fill="#3a5a00"/><rect x="209.8" y="298.3" width="20" height="22" fill="url(#lv_green)"/><ellipse cx="219.8" cy="304.3" rx="8" ry="3.2" fill="#f0ffb0" opacity="0.9"/></g>
<text x="245.57" y="326.2" font-family="'Liberation Sans', Arial, sans-serif" font-weight="normal" font-size="41" textLength="117.81" lengthAdjust="spacingAndGlyphs" fill="#000" stroke="#000" stroke-width="1.5">2 hour</text>
<g filter="url(#soft)"><rect x="205.8" y="390.5" width="28" height="28" rx="3" fill="#1c0838"/><rect x="209.8" y="391.5" width="20" height="22" fill="url(#lv_purple)"/><ellipse cx="219.8" cy="397.5" rx="8" ry="3.2" fill="#e8c8ff" opacity="0.9"/></g>
<text x="245.69" y="418.8" font-family="'Liberation Sans', Arial, sans-serif" font-weight="normal" font-size="41" textLength="117.69" lengthAdjust="spacingAndGlyphs" fill="#000" stroke="#000" stroke-width="1.5">4 hour</text>
<g filter="url(#soft)"><rect x="205.8" y="483.7" width="28" height="28" rx="3" fill="#002838"/><rect x="209.8" y="484.7" width="20" height="22" fill="url(#lv_cyan)"/><ellipse cx="219.8" cy="490.7" rx="8" ry="3.2" fill="#a8ffff" opacity="0.9"/></g>
<text x="245.59" y="511.8" font-family="'Liberation Sans', Arial, sans-serif" font-weight="normal" font-size="41" textLength="139.98" lengthAdjust="spacingAndGlyphs" fill="#000" stroke="#000" stroke-width="1.5">24 hour</text>
<rect x="741" y="129" width="968" height="757" fill="#000" opacity="0.34" filter="url(#shadow)"/>
<rect x="747.5" y="135.3" width="955" height="744" rx="2" fill="#fff" stroke="#727272" stroke-width="3.2"/>
<rect x="769" y="161" width="913.5" height="695.3" rx="4" fill="#fff" stroke="#303030" stroke-width="3.4"/>
<text x="786.06" y="218.5" font-family="'Liberation Serif', 'Times New Roman', serif" font-weight="bold" font-size="68" textLength="42.66" lengthAdjust="spacingAndGlyphs" fill="#000" stroke="#000" stroke-width="0.8">B</text>
<text x="962.92" y="230.5" font-family="'Liberation Sans', Arial, sans-serif" font-weight="bold" font-size="41" textLength="171.62" lengthAdjust="spacingAndGlyphs" fill="#000" stroke="#000" stroke-width="0.8">Neutron</text>
<text x="1146.44" y="230.5" font-family="'Liberation Sans', Arial, sans-serif" font-weight="bold" font-size="41" textLength="210.91" lengthAdjust="spacingAndGlyphs" fill="#000" stroke="#000" stroke-width="0.8">Activation</text>
<text x="1370.73" y="230.5" font-family="'Liberation Sans', Arial, sans-serif" font-weight="bold" font-size="41" textLength="181.25" lengthAdjust="spacingAndGlyphs" fill="#000" stroke="#000" stroke-width="0.8">Analysis</text>
<g stroke="#000"><line x1="1024" y1="665.5" x2="1080" y2="665.5" stroke-width="4.5" stroke-linecap="round"/><line x1="1050" y1="665.5" x2="1050" y2="677.5" stroke-width="4"/></g>
<g stroke="#000"><line x1="1196" y1="425" x2="1253" y2="425" stroke-width="4.5" stroke-linecap="round"/><line x1="1224.3" y1="425" x2="1224.3" y2="437" stroke-width="4"/></g>
<g stroke="#000"><line x1="1370" y1="322.5" x2="1428" y2="322.5" stroke-width="4.5" stroke-linecap="round"/><line x1="1397.5" y1="322.5" x2="1397.5" y2="334.5" stroke-width="4"/></g>
<g stroke="#000"><line x1="1543" y1="682.7" x2="1601" y2="682.7" stroke-width="4.5" stroke-linecap="round"/><line x1="1570.7" y1="682.7" x2="1570.7" y2="694.7" stroke-width="4"/></g>
<rect x="989" y="670.6" width="121.5" height="41.39999999999998" rx="2.5" fill="#000"/>
<rect x="994" y="675.6" width="111.5" height="36.39999999999998" fill="#ff50b0"/>
<rect x="996" y="677.6" width="107.5" height="32.39999999999998" fill="#f52880"/>
<rect x="1162.2" y="427.3" width="122.79999999999995" height="52.30000000000001" rx="2.5" fill="#000"/>
<rect x="1167.2" y="432.3" width="112.79999999999995" height="47.30000000000001" fill="#a05a5c"/>
<rect x="1169.2" y="434.3" width="108.79999999999995" height="43.30000000000001" fill="#7f3d3f"/>
<rect x="1167.2" y="475.6" width="112.79999999999995" height="4" fill="#420000"/>
<rect x="1162.2" y="512.5" width="122.79999999999995" height="199.5" rx="2.5" fill="#000"/>
<rect x="1167.2" y="512.5" width="112.79999999999995" height="199.5" fill="#a05a5c"/>
<rect x="1169.2" y="514.5" width="108.79999999999995" height="195.5" fill="#7f3d3f"/>
<rect x="1167.2" y="512.5" width="112.79999999999995" height="4" fill="#420000"/>
<rect x="1336" y="334.2" width="123" height="145.40000000000003" rx="2.5" fill="#000"/>
<rect x="1341" y="339.2" width="113" height="140.40000000000003" fill="#c02a14"/>
<rect x="1343" y="341.2" width="109" height="136.40000000000003" fill="#a21400"/>
<rect x="1341" y="475.6" width="113" height="4" fill="#4a0000"/>
<rect x="1336" y="512.5" width="123" height="199.5" rx="2.5" fill="#000"/>
<rect x="1341" y="512.5" width="113" height="199.5" fill="#c02a14"/>
<rect x="1343" y="514.5" width="109" height="195.5" fill="#a21400"/>
<rect x="1341" y="512.5" width="113" height="4" fill="#4a0000"/>
<rect x="1510" y="685.5" width="122.5" height="26.5" rx="2.5" fill="#000"/>
<rect x="1515" y="690.5" width="112.5" height="21.5" fill="#ff6a3a"/>
<rect x="1517" y="692.5" width="108.5" height="17.5" fill="#ff3a10"/>
<g stroke="#000" stroke-width="4.6" fill="none" stroke-linecap="butt">
<path d="M949.6,280.3 H960.5 Q963,280.3 963,282.8 V480.4"/>
<line x1="949.6" y1="381.5" x2="963" y2="381.5"/>
<line x1="949.6" y1="480.4" x2="972" y2="480.4"/>
<line x1="949.6" y1="513" x2="972" y2="513"/>
<line x1="963" y1="513" x2="963" y2="711"/>
<line x1="949.6" y1="611.7" x2="963" y2="611.7"/>
<line x1="949.6" y1="711" x2="1657.5" y2="711"/>
<line x1="1050" y1="711" x2="1050" y2="722.5"/>
<line x1="1224.3" y1="711" x2="1224.3" y2="722.5"/>
<line x1="1397.5" y1="711" x2="1397.5" y2="722.5"/>
<line x1="1570.7" y1="711" x2="1570.7" y2="722.5"/>
</g>
<text x="890.49" y="291.9" font-family="'Liberation Sans', Arial, sans-serif" font-weight="bold" font-size="32" textLength="53.71" lengthAdjust="spacingAndGlyphs" fill="#000" stroke="#000" stroke-width="0.8">100</text>
<text x="909.04" y="392" font-family="'Liberation Sans', Arial, sans-serif" font-weight="bold" font-size="32" textLength="34.34" lengthAdjust="spacingAndGlyphs" fill="#000" stroke="#000" stroke-width="0.8">51</text>
<text x="926.44" y="491" font-family="'Liberation Sans', Arial, sans-serif" font-weight="bold" font-size="32" textLength="17.13" lengthAdjust="spacingAndGlyphs" fill="#000" stroke="#000" stroke-width="0.8">2</text>
<text x="899.80" y="523.5" font-family="'Liberation Sans', Arial, sans-serif" font-weight="bold" font-size="32" textLength="44.48" lengthAdjust="spacingAndGlyphs" fill="#000" stroke="#000" stroke-width="0.8">1.0</text>
<text x="899.20" y="622.6" font-family="'Liberation Sans', Arial, sans-serif" font-weight="bold" font-size="32" textLength="44.59" lengthAdjust="spacingAndGlyphs" fill="#000" stroke="#000" stroke-width="0.8">0.5</text>
<text x="899.17" y="722.5" font-family="'Liberation Sans', Arial, sans-serif" font-weight="bold" font-size="32" textLength="45.65" lengthAdjust="spacingAndGlyphs" fill="#000" stroke="#000" stroke-width="0.8">0.0</text>
<text transform="translate(843.5,686.5) rotate(-90)" font-family="'Liberation Sans', Arial, sans-serif" font-weight="bold" font-size="28" textLength="412" lengthAdjust="spacingAndGlyphs" fill="#000" stroke="#000" stroke-width="0.7">%ID gold concentration/g of Tissue</text>
<text x="1356" y="321" font-family="'Liberation Sans', Arial, sans-serif" font-weight="bold" font-size="46" textLength="79" lengthAdjust="spacingAndGlyphs" fill="#000" stroke="#000" stroke-width="0.6">***</text>
<text transform="translate(1052,755) rotate(-45)" text-anchor="end" font-family="'Liberation Sans', Arial, sans-serif" font-weight="bold" font-size="31" textLength="105" lengthAdjust="spacingAndGlyphs" fill="#000" stroke="#000" stroke-width="0.8">Tumor</text>
<text transform="translate(1227,754) rotate(-45)" text-anchor="end" font-family="'Liberation Sans', Arial, sans-serif" font-weight="bold" font-size="31" textLength="83" lengthAdjust="spacingAndGlyphs" fill="#000" stroke="#000" stroke-width="0.8">Liver</text>
<text transform="translate(1402,755.5) rotate(-45)" text-anchor="end" font-family="'Liberation Sans', Arial, sans-serif" font-weight="bold" font-size="31" textLength="114" lengthAdjust="spacingAndGlyphs" fill="#000" stroke="#000" stroke-width="0.8">Spleen</text>
<text transform="translate(1576,754) rotate(-45)" text-anchor="end" font-family="'Liberation Sans', Arial, sans-serif" font-weight="bold" font-size="31" textLength="98" lengthAdjust="spacingAndGlyphs" fill="#000" stroke="#000" stroke-width="0.8">Blood</text>
<circle cx="1135.7" cy="820" r="1.2" fill="#888"/>
</g>
</svg></body></html>
